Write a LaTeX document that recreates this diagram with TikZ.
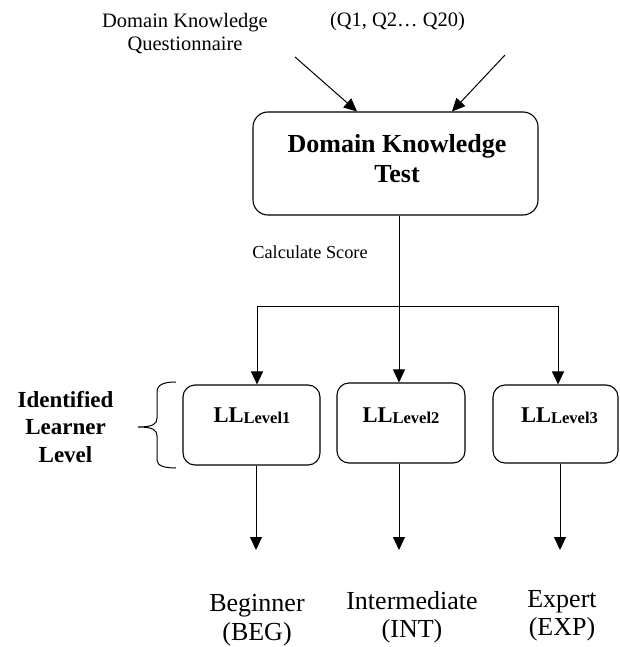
\documentclass[tikz,border=0pt]{standalone}
\usepackage{fontspec}
\setmainfont{Liberation Serif}
\usetikzlibrary{arrows.meta}

\newcommand{\fs}[2]{\fontsize{#1}{#2}\selectfont}
\newcommand{\lvl}[1]{LL\raisebox{-1pt}{\fs{16.5}{18}Level#1}}

\begin{document}
\begin{tikzpicture}[x=1pt,y=-1pt,
  line width=1pt,
  tip/.style={-{Triangle[length=13pt,width=12pt]}},
  bigbox/.style={draw,rounded corners=15pt,inner sep=0pt,line width=1.1pt},
  levelbox/.style={draw,rounded corners=12pt,inner sep=0pt,line width=1.1pt},
  toptext/.style={font=\fs{20.5}{23},align=center,inner sep=0pt},
  smalltext/.style={font=\fs{18.3}{21},inner sep=0pt},
  boldtext/.style={font=\fs{26}{30}\bfseries,align=center,inner sep=0pt},
  sidetext/.style={font=\fs{23}{27.5}\bfseries,align=center,inner sep=0pt},
  lltext/.style={font=\fs{22.5}{26}\bfseries,inner sep=0pt},
  outtext/.style={font=\fs{26}{28.5},align=center,inner sep=0pt}
]
\useasboundingbox (0,0) rectangle (619,647);

% inputs to the test
\node[toptext] (quest) at (185,33.7) {Domain Knowledge\\Questionnaire};
\node[toptext,anchor=base] (qlist) at (397.5,27) {(Q1, Q2\dots\ Q20)};

% central test box
\node[bigbox,minimum width=285pt,minimum height=103pt] (dk) at (395.5,163.5) {};
\node[boldtext] (dktext) at (397,158.2) {Domain Knowledge\\Test};

\coordinate (s1) at (295,57);
\coordinate (t1) at (357,0);
\coordinate (s2) at (505,55);
\coordinate (t2) at (452,0);
\draw[tip] (s1) -- (t1 |- dk.north);
\draw[tip] (s2) -- (t2 |- dk.north);

\node[smalltext,anchor=base] (calc) at (310,258) {Calculate Score};

% learner level boxes
\node[levelbox,minimum width=137pt,minimum height=80pt] (ll1) at (251.5,425) {};
\node[levelbox,minimum width=128pt,minimum height=80pt] (ll2) at (401,423) {};
\node[levelbox,minimum width=125pt,minimum height=78pt] (ll3) at (555.5,424) {};
\node[lltext,anchor=base] (ll1t) at (252,422) {\lvl{1}};
\node[lltext,anchor=base] (ll2t) at (401,422) {\lvl{2}};
\node[lltext,anchor=base] (ll3t) at (559.5,422) {\lvl{3}};

% score distribution
\coordinate (split) at (399,306);
\coordinate (hl) at (257,306);
\coordinate (hr) at (558,306);
\draw[tip] (split |- dk.south) -- (split |- ll2.north);
\draw (hl) -- (hr);
\draw[tip] (hl) -- (hl |- ll1.north);
\draw[tip] (hr) -- (hr |- ll3.north);

% side label with brace
\node[sidetext] (ident) at (65.5,426.8) {Identified\\Learner\\Level};
\draw[line width=1pt] (176,382) .. controls (165,382) and (157,384) .. (157,392)
  -- (157,418) .. controls (157,424) and (153,427) .. (138,427)
  .. controls (153,427) and (157,430) .. (157,436)
  -- (157,460) .. controls (157,466) and (165,468) .. (176,468);

% outcomes
\coordinate (e1) at (256,550);
\coordinate (e2) at (399,550);
\coordinate (e3) at (560,550);
\draw[tip] (e1 |- ll1.south) -- (e1);
\draw[tip] (e2 |- ll2.south) -- (e2);
\draw[tip] (e3 |- ll3.south) -- (e3);

\node[outtext] (beg) at (257,620.4) {Beginner\\(BEG)};
\node[outtext] (int) at (412,617.4) {Intermediate\\(INT)};
\node[outtext] (exp) at (562,615.7) {Expert\\(EXP)};
\end{tikzpicture}
\end{document}
